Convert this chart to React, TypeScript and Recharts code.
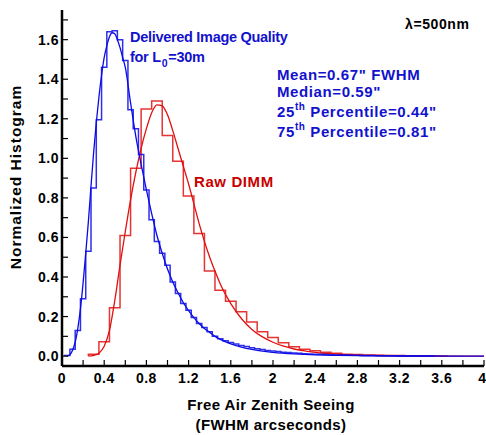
import React from 'react';
import { ComposedChart, Line, XAxis, YAxis } from 'recharts';

const FONT = '"Liberation Sans", Arial, Helvetica, sans-serif';

// plot frame in page pixels
const PLOT_LEFT = 62;
const PLOT_RIGHT = 484;
const PLOT_TOP = 10;
const PLOT_BOTTOM = 366;
const TICK_LEN = 6;

// delivered image quality histogram, 0.05" bins
const blueBinStart = 0.025;
const blueBinWidth = 0.05;
const blueHist = [
  0.003, 0.035, 0.13, 0.29, 0.53, 0.85, 1.195, 1.46, 1.64, 1.645,
  1.6, 1.495, 1.246, 1.15, 1.02, 0.84, 0.69, 0.58, 0.52, 0.46,
  0.375, 0.317, 0.266, 0.232, 0.195, 0.165, 0.145, 0.123, 0.1, 0.088,
  0.078, 0.069, 0.061, 0.054, 0.048, 0.042, 0.037, 0.033, 0.029, 0.026,
  0.023, 0.02, 0.018, 0.016, 0.014, 0.012, 0.011, 0.01, 0.009, 0.008,
  0.007, 0.006, 0.005, 0.005, 0.004, 0.004, 0.003, 0.003, 0.003, 0.002,
  0.002, 0.002, 0.002, 0.001, 0.001, 0.001, 0.001, 0.001, 0.001, 0.001,
];

// raw DIMM histogram, 0.1" bins
const redBinStart = 0.25;
const redBinWidth = 0.1;
const redHist = [
  0.009, 0.072, 0.244, 0.61, 0.95, 1.25, 1.29, 1.116, 0.985, 0.81,
  0.62, 0.43, 0.333, 0.278, 0.224, 0.172, 0.123, 0.094, 0.067, 0.047,
  0.035, 0.027, 0.019, 0.014, 0.01, 0.008, 0.006, 0.004, 0.003, 0.003,
  0.002, 0.002, 0.001, 0.001,
];

// fitted curves
const blueFitX = [
  0.05, 0.08, 0.1, 0.125, 0.15, 0.175, 0.2, 0.225, 0.25, 0.275,
  0.3, 0.325, 0.35, 0.375, 0.4, 0.425, 0.45, 0.475, 0.5, 0.525,
  0.55, 0.575, 0.6, 0.65, 0.7, 0.75, 0.8, 0.85, 0.9, 0.95,
  1.0, 1.05, 1.1, 1.15, 1.2, 1.25, 1.3, 1.35, 1.4, 1.45,
  1.5, 1.6, 1.7, 1.8, 1.9, 2.0, 2.2, 2.4, 2.6, 2.8,
  3.0, 3.4, 4.0,
];
const blueFitY = [
  0, 0.01, 0.03, 0.07, 0.14, 0.24, 0.37, 0.52, 0.68, 0.86,
  1.03, 1.18, 1.31, 1.42, 1.51, 1.57, 1.615, 1.635, 1.63, 1.6,
  1.56, 1.51, 1.46, 1.28, 1.11, 0.97, 0.84, 0.72, 0.61, 0.52,
  0.44, 0.375, 0.32, 0.27, 0.23, 0.195, 0.165, 0.14, 0.12, 0.1,
  0.085, 0.062, 0.046, 0.034, 0.025, 0.019, 0.011, 0.006, 0.0035, 0.002,
  0.001, 0.0005, 0,
];

const redFitX = [
  0.25, 0.3, 0.35, 0.4, 0.45, 0.5, 0.55, 0.6, 0.65, 0.7,
  0.75, 0.8, 0.85, 0.9, 0.95, 1.0, 1.05, 1.1, 1.15, 1.2,
  1.25, 1.3, 1.35, 1.4, 1.45, 1.5, 1.6, 1.7, 1.8, 1.9,
  2.0, 2.1, 2.2, 2.3, 2.4, 2.6, 2.8, 3.0, 3.3, 3.6,
  4.0,
];
const redFitY = [
  0, 0.004, 0.015, 0.05, 0.13, 0.28, 0.46, 0.63, 0.79, 0.93,
  1.05, 1.15, 1.23, 1.27, 1.265, 1.22, 1.14, 1.05, 0.96, 0.87,
  0.77, 0.67, 0.58, 0.5, 0.43, 0.365, 0.265, 0.19, 0.135, 0.097,
  0.07, 0.05, 0.036, 0.026, 0.019, 0.01, 0.005, 0.003, 0.001, 0.0003,
  0,
];

const xTicks = [
  0, 0.2, 0.4, 0.6, 0.8, 1.0, 1.2, 1.4, 1.6, 1.8, 2.0,
  2.2, 2.4, 2.6, 2.8, 3.0, 3.2, 3.4, 3.6, 3.8, 4.0,
];
const yTicks = [
  0, 0.1, 0.2, 0.3, 0.4, 0.5, 0.6, 0.7, 0.8, 0.9,
  1.0, 1.1, 1.2, 1.3, 1.4, 1.5, 1.6, 1.7,
];

function stepRows(start: number, width: number, values: number[]) {
  const rows = [{ x: start, y: 0 }];
  values.forEach((v, i) => rows.push({ x: start + i * width, y: v }));
  const end = start + values.length * width;
  rows.push({ x: end, y: values[values.length - 1] });
  rows.push({ x: end, y: 0 });
  return rows;
}

const zip = (xs: number[], ys: number[]) => xs.map((x, i) => ({ x, y: ys[i] }));

const blueSteps = stepRows(blueBinStart, blueBinWidth, blueHist);
const redSteps = stepRows(redBinStart, redBinWidth, redHist);
const blueFit = zip(blueFitX, blueFitY);
const redFit = zip(redFitX, redFitY);

const isMajorX = (v: number) => Math.round(v * 10) % 4 === 0;
const isMajorY = (v: number) => Math.round(v * 10) % 2 === 0;

const labelStyle = {
  fontFamily: FONT,
  fontWeight: 700,
  fontSize: 14,
  letterSpacing: 0.5,
  fill: '#000',
};

function BottomTick(props: any) {
  const { x, payload } = props;
  const v = payload.value as number;
  // last label sits on the right edge of the page, keep it inside
  const last = v >= 4;
  return (
    <g>
      <line x1={x} x2={x} y1={PLOT_BOTTOM} y2={PLOT_BOTTOM - TICK_LEN} stroke="#000" strokeWidth={1.2} />
      {isMajorX(v) && (
        <text
          x={last ? 486 : x}
          y={PLOT_BOTTOM + 17}
          textAnchor={last ? 'end' : 'middle'}
          style={last ? { ...labelStyle, letterSpacing: 0 } : labelStyle}
        >
          {String(Math.round(v * 10) / 10)}
        </text>
      )}
    </g>
  );
}

function TopTick(props: any) {
  const { x } = props;
  return <line x1={x} x2={x} y1={PLOT_TOP} y2={PLOT_TOP + TICK_LEN} stroke="#000" strokeWidth={1.2} />;
}

function LeftTick(props: any) {
  const { y, payload } = props;
  const v = payload.value as number;
  return (
    <g>
      <line x1={PLOT_LEFT} x2={PLOT_LEFT + TICK_LEN} y1={y} y2={y} stroke="#000" strokeWidth={1.2} />
      {isMajorY(v) && (
        <text x={PLOT_LEFT - 3} y={y + 5} textAnchor="end" style={labelStyle}>
          {v.toFixed(1)}
        </text>
      )}
    </g>
  );
}

function RightTick(props: any) {
  const { y } = props;
  return <line x1={PLOT_RIGHT} x2={PLOT_RIGHT - TICK_LEN} y1={y} y2={y} stroke="#000" strokeWidth={1.2} />;
}

const BLUE = '#0a0ae6';
const BLUE_TEXT = '#1212cc';
const RED = '#e01010';
const RED_TEXT = '#c80000';

const bold = { fontFamily: FONT, fontWeight: 700 } as const;
const frame = { stroke: '#000', strokeWidth: 2.5 };

export default function App() {
  return (
    <div style={{ position: 'absolute', left: 0, top: 0, width: 486, height: 435, background: '#fff' }}>
      <ComposedChart
        width={486}
        height={435}
        margin={{ top: PLOT_TOP, right: 486 - PLOT_RIGHT, bottom: 0, left: 0 }}
      >
        <XAxis
          xAxisId="b"
          dataKey="x"
          type="number"
          domain={[0, 4]}
          allowDataOverflow
          ticks={xTicks}
          interval={0}
          height={435 - PLOT_BOTTOM}
          tick={BottomTick}
          tickLine={false}
          axisLine={frame}
        />
        <XAxis
          xAxisId="t"
          orientation="top"
          type="number"
          domain={[0, 4]}
          allowDataOverflow
          ticks={xTicks}
          interval={0}
          height={0}
          tick={TopTick}
          tickLine={false}
          axisLine={frame}
        />
        <YAxis
          yAxisId="l"
          type="number"
          domain={[-0.05, 1.75]}
          allowDataOverflow
          ticks={yTicks}
          interval={0}
          width={PLOT_LEFT}
          tick={LeftTick}
          tickLine={false}
          axisLine={frame}
        />
        <YAxis
          yAxisId="r"
          orientation="right"
          type="number"
          domain={[-0.05, 1.75]}
          allowDataOverflow
          ticks={yTicks}
          interval={0}
          width={0}
          tick={RightTick}
          tickLine={false}
          axisLine={frame}
        />
        <Line
          xAxisId="b"
          yAxisId="l"
          data={redSteps}
          dataKey="y"
          type="stepAfter"
          stroke={RED}
          strokeWidth={1.5}
          strokeOpacity={0.85}
          dot={false}
          isAnimationActive={false}
        />
        <Line
          xAxisId="b"
          yAxisId="l"
          data={redFit}
          dataKey="y"
          type="monotone"
          stroke={RED}
          strokeWidth={1.3}
          dot={false}
          isAnimationActive={false}
        />
        <Line
          xAxisId="b"
          yAxisId="l"
          data={blueSteps}
          dataKey="y"
          type="stepAfter"
          stroke={BLUE}
          strokeWidth={1.5}
          strokeOpacity={0.85}
          dot={false}
          isAnimationActive={false}
        />
        <Line
          xAxisId="b"
          yAxisId="l"
          data={blueFit}
          dataKey="y"
          type="monotone"
          stroke={BLUE}
          strokeWidth={1.3}
          dot={false}
          isAnimationActive={false}
        />
      </ComposedChart>
      <svg
        width={486}
        height={435}
        style={{ position: 'absolute', left: 0, top: 0, pointerEvents: 'none' }}
      >
        <text x={405} y={29} style={{ ...bold, fontSize: 14, letterSpacing: 0.6 }} fill="#000">
          λ=500nm
        </text>
        <text x={130} y={42} style={{ ...bold, fontSize: 14.5, letterSpacing: -0.3 }} fill={BLUE_TEXT}>
          Delivered Image Quality
        </text>
        <text x={130} y={61.5} style={{ ...bold, fontSize: 14.5, letterSpacing: -0.3 }} fill={BLUE_TEXT}>
          for L
          <tspan dx={1} dy={5} style={{ fontSize: 10.5 }}>0</tspan>
          <tspan dx={1} dy={-5}>=30m</tspan>
        </text>
        <g style={{ ...bold, fontSize: 15, letterSpacing: 0.6 }} fill={BLUE_TEXT}>
          <text x={277} y={80}>Mean=0.67" FWHM</text>
          <text x={277} y={97}>Median=0.59"</text>
          <text x={277} y={117}>
            25<tspan dy={-7} style={{ fontSize: 10 }}>th</tspan>
            <tspan dy={7}> Percentile=0.44"</tspan>
          </text>
          <text x={277} y={137}>
            75<tspan dy={-7} style={{ fontSize: 10 }}>th</tspan>
            <tspan dy={7}> Percentile=0.81"</tspan>
          </text>
        </g>
        <text x={194} y={186.5} style={{ ...bold, fontSize: 15, letterSpacing: 0.6 }} fill={RED_TEXT}>
          Raw DIMM
        </text>
        <g style={{ ...bold, fontSize: 15, letterSpacing: 0.4 }} fill="#000">
          <text x={271} y={410} textAnchor="middle">Free Air Zenith Seeing</text>
          <text x={271} y={429.5} textAnchor="middle">(FWHM arcseconds)</text>
          <text
            x={15}
            y={177}
            textAnchor="middle"
            dominantBaseline="central"
            transform="rotate(-90 15 177)"
            style={{ ...bold, fontSize: 15.5, letterSpacing: 1 }}
          >
            Normalized Histogram
          </text>
        </g>
      </svg>
    </div>
  );
}
